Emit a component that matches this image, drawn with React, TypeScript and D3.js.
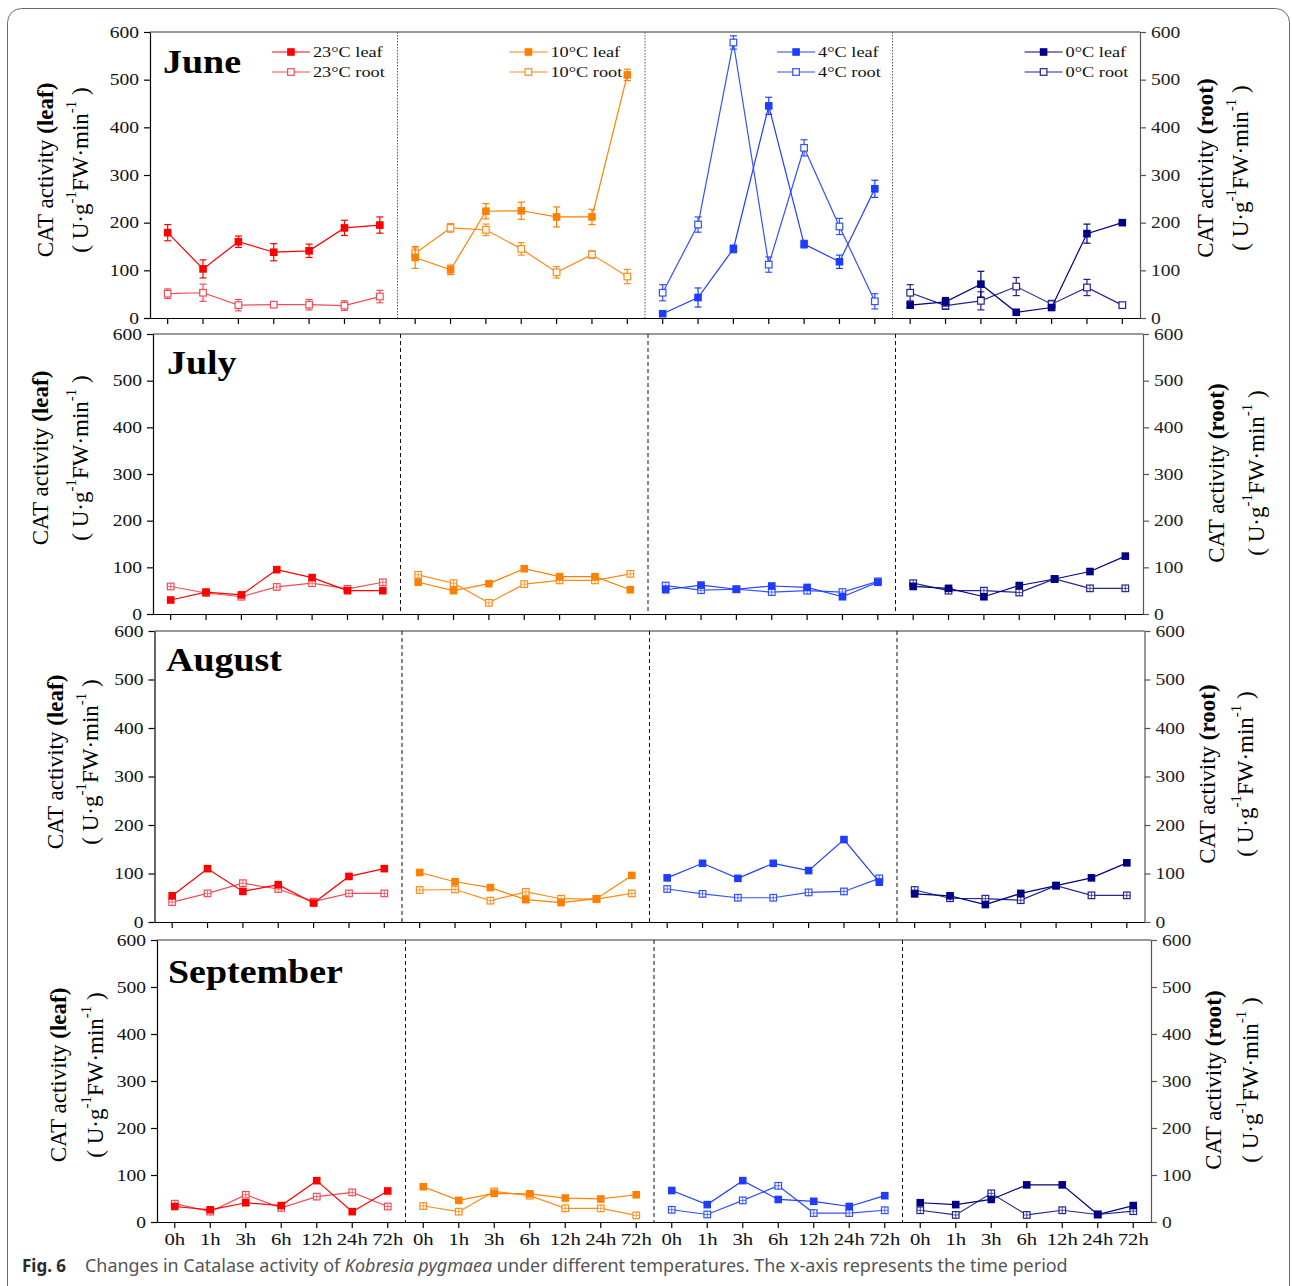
import { useEffect, useRef } from 'react';
import * as d3 from 'd3';

const times = ['0h', '1h', '3h', '6h', '12h', '24h', '72h'];
const temps = ['23°C', '10°C', '4°C', '0°C'];
const months = ['June', 'July', 'August', 'September'];
const yTicks = [0, 100, 200, 300, 400, 500, 600];

// one row per temperature (23, 10, 4, 0 °C), one column per time point
const juneLeaf = [
  [179, 103, 160, 138, 141, 189, 195],
  [127, 101, 224, 225, 212, 212, 510],
  [9, 43, 145, 445, 155, 118, 271],
  [27, 34, 71, 12, 22, 177, 200],
];
const juneLeafErr = [
  [17, 19, 12, 18, 14, 16, 17],
  [23, 10, 16, 18, 21, 16, 12],
  [3, 20, 8, 18, 8, 14, 18],
  [6, 9, 27, 2, 3, 20, 3],
];
const juneRoot = [
  [51, 53, 27, 28, 28, 26, 45],
  [136, 189, 185, 145, 96, 133, 87],
  [53, 196, 578, 112, 357, 192, 35],
  [53, 26, 36, 66, 29, 64, 27],
];
const juneRootErr = [
  [10, 18, 12, 5, 11, 10, 13],
  [11, 9, 12, 13, 12, 8, 15],
  [17, 16, 14, 16, 17, 17, 16],
  [17, 8, 19, 19, 8, 17, 2],
];
const julyLeaf = [
  [30, 47, 41, 95, 78, 50, 50],
  [68, 50, 65, 97, 80, 80, 52],
  [52, 62, 53, 60, 57, 37, 68],
  [59, 55, 37, 61, 75, 91, 124],
];
const julyRoot = [
  [59, 45, 37, 58, 66, 54, 68],
  [84, 66, 24, 64, 72, 72, 86],
  [61, 51, 53, 47, 50, 47, 70],
  [66, 50, 50, 46, 75, 55, 55],
];
const augLeaf = [
  [54, 110, 63, 77, 39, 94, 110],
  [102, 83, 71, 46, 40, 48, 96],
  [91, 121, 90, 121, 106, 170, 82],
  [58, 54, 36, 59, 75, 91, 122],
];
const augRoot = [
  [41, 59, 80, 68, 42, 59, 59],
  [66, 67, 44, 62, 48, 47, 59],
  [68, 58, 50, 50, 61, 63, 90],
  [66, 49, 48, 45, 75, 55, 55],
];
const sepLeaf = [
  [33, 26, 41, 35, 88, 22, 66],
  [75, 46, 61, 60, 51, 49, 58],
  [67, 37, 88, 48, 44, 33, 56],
  [41, 37, 48, 79, 79, 16, 35],
];
const sepRoot = [
  [39, 22, 58, 30, 54, 63, 33],
  [34, 22, 65, 56, 29, 29, 14],
  [26, 16, 46, 77, 19, 19, 25],
  [25, 15, 61, 15, 25, 16, 23],
];

const leafColors = ['#ff0000', '#ff8000', '#1f3dff', '#000084'];
const rootColors = ['#f24d57', '#ff8c1a', '#3350ff', '#25258f'];

const serif = '"Liberation Serif", "Times New Roman", serif';
const sans = '"Noto Sans", "Open Sans", sans-serif';
const STRETCH = 1.22;

// layout of each month panel
const panels = [
  { leaf: juneLeaf, root: juneRoot, leafErr: juneLeafErr, rootErr: juneRootErr, xr: [150, 1140], yr: [318, 32], title: [163, 73], lLab: [45, 80, 170], rLab: [1205, 1240, 168], dotted: true },
  { leaf: julyLeaf, root: julyRoot, leafErr: null, rootErr: null, xr: [153, 1143], yr: [614, 334], title: [167, 374], lLab: [40, 80, 458], rLab: [1216, 1256, 473], dotted: false },
  { leaf: augLeaf, root: augRoot, leafErr: null, rootErr: null, xr: [154.5, 1144.5], yr: [922, 631], title: [166, 671], lLab: [55, 90, 762], rLab: [1207, 1245, 774], dotted: false },
  { leaf: sepLeaf, root: sepRoot, leafErr: null, rootErr: null, xr: [157, 1151], yr: [1222, 940], title: [168, 983], lLab: [58, 95, 1075], rLab: [1213, 1250, 1080], dotted: false },
];
const legendShift = [2, -8, 3, 3];

function App() {
  const svgRef = useRef<SVGSVGElement>(null);

  useEffect(() => {
    if (!svgRef.current) return;
    const svg = d3.select(svgRef.current);
    svg.selectAll('*').remove();

    // figure frame
    svg.append('rect')
      .attr('x', 7.5).attr('y', 8.5)
      .attr('width', 1282).attr('height', 1330)
      .attr('rx', 14)
      .attr('fill', 'none').attr('stroke', '#6a6a6a').attr('stroke-width', 1);

    const keys = temps.flatMap((_, g) => times.map((t) => `${g}|${t}`));

    panels.forEach((p, pi) => {
      const x = d3.scaleBand().domain(keys).range(p.xr as [number, number]).padding(0);
      const cx = (g: number, i: number) => (x(`${g}|${times[i]}`) as number) + x.bandwidth() / 2;
      const y = d3.scaleLinear().domain([0, 600]).range(p.yr);
      const g = svg.append('g');

      // top border
      g.append('line')
        .attr('x1', p.xr[0]).attr('x2', p.xr[1])
        .attr('y1', p.yr[1]).attr('y2', p.yr[1])
        .attr('stroke', '#333').attr('stroke-width', 1.2);

      // group separators
      for (let k = 1; k < temps.length; k++) {
        const sx = x(`${k}|0h`) as number;
        g.append('line')
          .attr('x1', sx).attr('x2', sx)
          .attr('y1', p.yr[1]).attr('y2', p.yr[0])
          .attr('stroke', p.dotted ? '#555' : '#111')
          .attr('stroke-width', 1)
          .attr('stroke-dasharray', p.dotted ? '1.5,1.5' : '4,3');
      }

      // axes
      const bottom = g.append('g')
        .attr('transform', `translate(0,${p.yr[0]})`)
        .call(
          d3.axisBottom(x).tickSize(6).tickSizeOuter(0).tickPadding(5)
            .tickFormat((d) => (pi === months.length - 1 ? d.split('|')[1] : ''))
        );
      const left = g.append('g')
        .attr('transform', `translate(${p.xr[0]},0)`)
        .call(d3.axisLeft(y).tickValues(yTicks).tickSize(6).tickSizeOuter(0));
      const right = g.append('g')
        .attr('transform', `translate(${p.xr[1]},0)`)
        .attr('color', '#555')
        .call(d3.axisRight(y).tickValues(yTicks).tickSize(6).tickSizeOuter(0));

      [bottom, left, right].forEach((ax) => {
        ax.attr('font-family', serif).attr('font-size', 16);
        ax.selectAll('path, line').attr('stroke-width', 1.2);
        ax.selectAll('text').attr('fill', '#111').attr('transform', `scale(${STRETCH},1)`);
      });
      bottom.selectAll('text').attr('font-size', 17);
      right.selectAll('text').attr('fill', '#222');

      // month title
      g.append('text')
        .attr('transform', `translate(${p.title[0]},${p.title[1]}) scale(1.15,1)`)
        .attr('font-family', serif).attr('font-weight', 700).attr('font-size', 33)
        .attr('fill', '#000')
        .text(months[pi]);

      // y labels
      const yLabel = (cx1: number, cx2: number, cy: number, part: string) => {
        const t1 = g.append('text')
          .attr('transform', `translate(${cx1},${cy}) rotate(-90)`)
          .attr('text-anchor', 'middle').attr('dominant-baseline', 'central')
          .attr('font-family', serif).attr('font-size', 23).attr('fill', '#000');
        t1.append('tspan').text('CAT activity ');
        t1.append('tspan').attr('font-weight', 700).text(`(${part})`);
        const t2 = g.append('text')
          .attr('transform', `translate(${cx2},${cy}) rotate(-90)`)
          .attr('text-anchor', 'middle').attr('dominant-baseline', 'central')
          .attr('font-family', serif).attr('font-size', 23).attr('fill', '#000');
        t2.append('tspan').text('( U·g');
        t2.append('tspan').attr('font-size', 15).attr('dy', -9).text('-1');
        t2.append('tspan').attr('dy', 9).text('FW·min');
        t2.append('tspan').attr('font-size', 15).attr('dy', -9).text('-1');
        t2.append('tspan').attr('dy', 9).text(' )');
      };
      yLabel(p.lLab[0], p.lLab[1], p.lLab[2], 'leaf');
      yLabel(p.rLab[0], p.rLab[1], p.rLab[2], 'root');

      // series
      temps.forEach((_, gi) => {
        const line = d3.line<number>().x((_d, i) => cx(gi, i)).y((d) => y(d));
        const draw = (vals: number[], errs: number[] | null, color: string, filled: boolean) => {
          g.append('path')
            .attr('d', line(vals))
            .attr('fill', 'none').attr('stroke', color).attr('stroke-width', 1.2);
          if (errs) {
            vals.forEach((v, i) => {
              const px = cx(gi, i);
              const y1 = y(v - errs[i]);
              const y2 = y(v + errs[i]);
              g.append('line').attr('x1', px).attr('x2', px).attr('y1', y1).attr('y2', y2)
                .attr('stroke', color).attr('stroke-width', 1.2);
              [y1, y2].forEach((yy) => {
                g.append('line').attr('x1', px - 3.5).attr('x2', px + 3.5).attr('y1', yy).attr('y2', yy)
                  .attr('stroke', color).attr('stroke-width', 1.2);
              });
            });
          }
          vals.forEach((v, i) => {
            const px = cx(gi, i);
            const py = y(v);
            if (filled) {
              g.append('rect').attr('x', px - 3.8).attr('y', py - 3.8).attr('width', 7.6).attr('height', 7.6)
                .attr('fill', color);
            } else {
              g.append('rect').attr('x', px - 3.3).attr('y', py - 3.3).attr('width', 6.6).attr('height', 6.6)
                .attr('fill', '#fff').attr('stroke', color).attr('stroke-width', 1.2);
              if (!errs) {
                g.append('line').attr('x1', px).attr('x2', px).attr('y1', py - 3.3).attr('y2', py + 3.3)
                  .attr('stroke', color).attr('stroke-width', 0.8);
                g.append('line').attr('x1', px - 3.3).attr('x2', px + 3.3).attr('y1', py).attr('y2', py)
                  .attr('stroke', color).attr('stroke-width', 0.8);
              }
            }
          });
        };
        draw(p.root[gi], p.rootErr ? p.rootErr[gi] : null, rootColors[gi], false);
        draw(p.leaf[gi], p.leafErr ? p.leafErr[gi] : null, leafColors[gi], true);
      });

      // legend (first panel only)
      if (pi === 0) {
        temps.forEach((t, gi) => {
          const endX = cx(gi, times.length - 1) + 3 + legendShift[gi];
          const rows = [
            { label: `${t} leaf`, color: leafColors[gi], filled: true, yy: 52 },
            { label: `${t} root`, color: rootColors[gi], filled: false, yy: 72 },
          ];
          const texts = rows.map((r) =>
            g.append('text')
              .attr('font-family', serif).attr('font-size', 15).attr('fill', '#111')
              .text(r.label)
          );
          const widths = texts.map((tx) => (tx.node() as SVGTextElement).getComputedTextLength() * STRETCH);
          const startX = endX - Math.max(...widths);
          rows.forEach((r, ri) => {
            texts[ri].attr('transform', `translate(${startX},${r.yy + 5}) scale(${STRETCH},1)`);
            g.append('line')
              .attr('x1', startX - 41).attr('x2', startX - 3)
              .attr('y1', r.yy).attr('y2', r.yy)
              .attr('stroke', r.color).attr('stroke-width', 1.2);
            const mx = startX - 22;
            if (r.filled) {
              g.append('rect').attr('x', mx - 3.8).attr('y', r.yy - 3.8).attr('width', 7.6).attr('height', 7.6)
                .attr('fill', r.color);
            } else {
              g.append('rect').attr('x', mx - 3.3).attr('y', r.yy - 3.3).attr('width', 6.6).attr('height', 6.6)
                .attr('fill', '#fff').attr('stroke', r.color).attr('stroke-width', 1.2);
            }
          });
        });
      }
    });

    // caption
    const cap = svg.append('text')
      .attr('x', 22).attr('y', 1272)
      .attr('font-family', sans).attr('font-size', 17);
    cap.append('tspan').attr('font-weight', 700).attr('fill', '#2b2b2b').text('Fig. 6');
    const rest = svg.append('text')
      .attr('x', 85).attr('y', 1272)
      .attr('font-family', sans).attr('font-size', 17).attr('fill', '#555');
    rest.append('tspan').text('Changes in Catalase activity of ');
    rest.append('tspan').attr('font-style', 'italic').text('Kobresia pygmaea');
    rest.append('tspan').text(' under different temperatures. The x-axis represents the time period');
    const len = (rest.node() as SVGTextElement).getComputedTextLength();
    if (len > 0) rest.attr('font-size', (17 * 983) / len);
  }, []);

  return (
    <div style={{ position: 'absolute', left: 0, top: 0, background: '#fff' }}>
      <svg ref={svgRef} width={1292} height={1286} style={{ display: 'block' }} />
    </div>
  );
}

export default App;
